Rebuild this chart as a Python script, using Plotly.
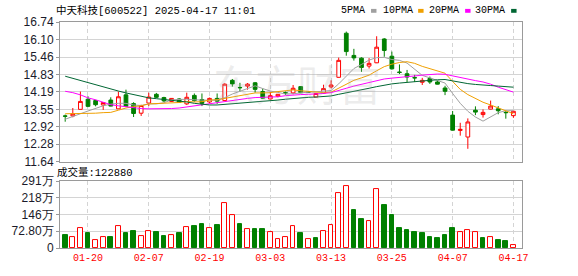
import plotly.graph_objects as go

# ---------------- data ----------------
dates = ["01-15", "01-16", "01-17", "01-20", "01-21", "01-22", "01-23", "01-24", "01-27",
         "02-05", "02-06", "02-07", "02-10", "02-11", "02-12", "02-13", "02-14", "02-17",
         "02-18", "02-19", "02-20", "02-21", "02-24", "02-25", "02-26", "02-27", "02-28",
         "03-03", "03-04", "03-05", "03-06", "03-07", "03-10", "03-11", "03-12", "03-13",
         "03-14", "03-17", "03-18", "03-19", "03-20", "03-21", "03-24", "03-25", "03-26",
         "03-27", "03-28", "03-31", "04-01", "04-02", "04-03", "04-07", "04-08", "04-09",
         "04-10", "04-11", "04-14", "04-15", "04-16", "04-17"]
tick_labels = ["01-20", "02-07", "02-19", "03-03", "03-13", "03-25", "04-07", "04-17"]

opens = [13.31, 13.31, 13.55, 13.92, 13.87, 13.71, 13.89, 13.57, 14.08, 13.76,
         13.41, 13.78, 14.10, 13.98, 13.84, 13.93, 13.75, 14.06, 13.91, 13.82,
         13.95, 13.87, 14.61, 14.35, 14.40, 14.52, 14.20, 13.93, 14.03, 14.16,
         14.15, 14.38, 14.18, 14.00, 14.14, 14.37, 14.72, 16.33, 15.52, 15.42,
         15.13, 15.25, 16.12, 15.49, 14.91, 14.85, 14.71, 14.54, 14.68, 14.55,
         14.33, 13.34, 12.78, 12.54, 13.52, 13.36, 13.56, 13.57, 13.44, 13.32]
highs = [13.36, 13.60, 14.20, 14.03, 13.90, 13.81, 13.99, 14.20, 14.27, 13.81,
         13.72, 14.16, 14.15, 14.01, 13.96, 13.96, 14.16, 14.13, 14.13, 13.98,
         14.13, 14.50, 14.66, 14.52, 14.51, 14.55, 14.31, 14.19, 14.11, 14.20,
         14.44, 14.40, 14.20, 14.13, 14.45, 14.61, 15.44, 16.39, 15.76, 15.45,
         15.42, 16.22, 16.15, 15.66, 15.19, 14.99, 14.81, 14.70, 14.75, 14.60,
         14.41, 13.49, 13.06, 13.22, 13.66, 13.55, 13.87, 13.67, 13.49, 13.50]
lows = [13.10, 13.26, 13.55, 13.63, 13.66, 13.53, 13.66, 13.57, 13.65, 13.27,
        13.31, 13.67, 13.96, 13.82, 13.82, 13.80, 13.71, 13.83, 13.67, 13.77,
        13.75, 13.86, 14.38, 14.20, 14.27, 14.16, 13.94, 13.92, 13.99, 14.08,
        14.10, 14.14, 14.15, 14.00, 14.13, 14.32, 14.71, 15.51, 15.33, 14.92,
        15.04, 15.24, 15.47, 15.00, 14.84, 14.54, 14.55, 14.44, 14.48, 14.46,
        14.07, 12.78, 12.59, 12.11, 13.34, 13.25, 13.55, 13.37, 13.21, 13.24]
closes = [13.30, 13.39, 13.84, 13.66, 13.72, 13.80, 13.67, 14.01, 13.66, 13.40,
          13.69, 14.00, 13.99, 13.86, 13.95, 13.81, 13.99, 13.87, 13.77, 13.95,
          13.85, 14.47, 14.48, 14.34, 14.47, 14.28, 13.96, 14.05, 14.10, 14.15,
          14.32, 14.16, 14.17, 14.13, 14.31, 14.44, 15.34, 15.66, 15.43, 15.08,
          15.23, 15.82, 15.70, 15.03, 14.90, 14.73, 14.70, 14.61, 14.55, 14.47,
          14.21, 12.79, 12.82, 13.09, 13.45, 13.44, 13.67, 13.50, 13.43, 13.48]
prev_close = 13.36  # close of the session before the first shown day

ma5 = [13.19, 13.30, 13.39, 13.49, 13.58, 13.68, 13.74, 13.77, 13.77, 13.71,
       13.69, 13.75, 13.75, 13.79, 13.90, 13.92, 13.92, 13.90, 13.88, 13.88,
       13.89, 13.98, 14.11, 14.22, 14.32, 14.41, 14.31, 14.22, 14.17, 14.11,
       14.12, 14.16, 14.18, 14.19, 14.22, 14.24, 14.48, 14.78, 15.04, 15.19,
       15.35, 15.44, 15.45, 15.37, 15.34, 15.24, 15.01, 14.79, 14.70, 14.61,
       14.51, 14.13, 13.77, 13.48, 13.27, 13.12, 13.29, 13.43, 13.50, 13.50]
ma10 = [13.39, 13.39, 13.40, 13.40, 13.41, 13.43, 13.44, 13.52, 13.60, 13.65,
        13.68, 13.75, 13.76, 13.78, 13.80, 13.80, 13.84, 13.82, 13.83, 13.89,
        13.90, 13.95, 14.00, 14.05, 14.10, 14.15, 14.15, 14.16, 14.20, 14.22,
        14.26, 14.23, 14.20, 14.18, 14.16, 14.18, 14.32, 14.48, 14.61, 14.70,
        14.80, 14.96, 15.11, 15.20, 15.26, 15.29, 15.23, 15.12, 15.04, 14.97,
        14.87, 14.57, 14.28, 14.09, 13.94, 13.81, 13.71, 13.60, 13.49, 13.39]
ma20 = [14.21, 14.16, 14.08, 13.97, 13.90, 13.80, 13.72, 13.68, 13.64, 13.60,
        13.58, 13.57, 13.57, 13.57, 13.58, 13.60, 13.64, 13.67, 13.71, 13.77,
        13.79, 13.85, 13.88, 13.91, 13.95, 13.98, 13.99, 13.99, 14.01, 14.05,
        14.08, 14.09, 14.10, 14.11, 14.13, 14.16, 14.23, 14.32, 14.40, 14.46,
        14.53, 14.60, 14.66, 14.69, 14.71, 14.74, 14.77, 14.80, 14.82, 14.84,
        14.83, 14.77, 14.70, 14.65, 14.60, 14.55, 14.47, 14.36, 14.26, 14.18]
ma30 = [14.76, 14.68, 14.60, 14.52, 14.45, 14.37, 14.30, 14.22, 14.15, 14.09,
        14.03, 13.97, 13.94, 13.91, 13.89, 13.87, 13.82, 13.77, 13.73, 13.71,
        13.71, 13.73, 13.75, 13.77, 13.80, 13.82, 13.84, 13.86, 13.89, 13.92,
        13.95, 13.98, 13.99, 14.00, 14.02, 14.04, 14.10, 14.15, 14.21, 14.27,
        14.32, 14.38, 14.44, 14.48, 14.51, 14.54, 14.56, 14.59, 14.61, 14.63,
        14.64, 14.59, 14.53, 14.49, 14.46, 14.43, 14.42, 14.40, 14.38, 14.36]

# volume, unit: 万
volumes = [56.2, 46.4, 88.6, 63.3, 36.6, 46.4, 46.4, 97.0, 63.3, 71.7,
           50.6, 74.5, 67.5, 50.6, 54.8, 63.3, 92.8, 94.2, 105.4, 88.6,
           101.2, 196.8, 142.0, 105.4, 84.3, 84.3, 84.3, 67.5, 40.8, 46.4,
           97.0, 63.3, 40.8, 42.2, 74.5, 99.8, 239.0, 268.5, 164.5, 126.5,
           116.7, 255.9, 185.6, 143.4, 88.6, 80.1, 67.5, 63.3, 46.4, 42.2,
           54.8, 88.6, 70.3, 78.7, 70.3, 42.2, 49.2, 33.7, 29.5, 12.288]

price_ticks = [11.64, 12.28, 12.92, 13.55, 14.19, 14.83, 15.46, 16.10, 16.74]
vol_tick_vals = [0, 72.75, 145.5, 218.25, 291]
vol_tick_text = ["0", "72.80万", "146万", "218万", "291万"]

title_text = "中天科技[600522] 2025-04-17 11:01"
vol_text = "成交量:122880"
ma_names = ["5PMA", "10PMA", "20PMA", "30PMA"]
ma_colors = ["#a0a0a0", "#f0a000", "#ff00ff", "#006633"]

# ---------------- layout geometry ----------------
W, H = 578, 276
L, R, T, B = 55, 56, 22, 21
PW, PH = W - L - R, H - T - B


def pxx(px):
    return (px - L) / PW


def pxy(py):
    return (H - B - py) / PH


RED = "#ff0000"
GREEN = "#008000"
xs = list(range(len(dates)))

fig = go.Figure()

fig.add_trace(go.Candlestick(
    x=xs, open=opens, high=highs, low=lows, close=closes,
    xaxis="x2", yaxis="y2", whiskerwidth=0, hoverinfo="skip",
    increasing=dict(line=dict(color=RED, width=1), fillcolor="#ffffff"),
    decreasing=dict(line=dict(color=GREEN, width=1), fillcolor=GREEN),
))

for name, vals, col in zip(ma_names, [ma5, ma10, ma20, ma30], ma_colors):
    fig.add_trace(go.Scatter(x=xs, y=vals, mode="lines", name=name,
                             line=dict(color=col, width=1), xaxis="x2", yaxis="y2",
                             hoverinfo="skip"))

prev = [prev_close] + closes[:-1]
up = [c >= p for c, p in zip(closes, prev)]
fig.add_trace(go.Bar(
    x=xs, y=volumes, width=0.62, xaxis="x", yaxis="y", hoverinfo="skip",
    marker=dict(color=["#ffffff" if u else GREEN for u in up],
                line=dict(color=[RED if u else GREEN for u in up], width=1)),
))

xr = [-0.685, 60.13]
grid_c = "#d4d4d4"
border_c = "#9a9a9a"
tick_font = dict(family="Liberation Sans, Arial", size=12, color="#1a1a2a")

fig.update_layout(
    width=W, height=H, margin=dict(l=L, r=R, t=T, b=B),
    paper_bgcolor="white", plot_bgcolor="white", showlegend=False,
    bargap=0,
    xaxis=dict(domain=[0, 1], anchor="y", range=xr, tickmode="array",
               tickvals=[dates.index(t) for t in tick_labels], ticktext=tick_labels,
               tickfont=dict(family="Liberation Mono, monospace", size=10, color=RED),
               showgrid=True, gridcolor=grid_c, griddash="4px,3px", gridwidth=1,
               showline=True, linecolor=border_c, linewidth=1, mirror=True,
               ticks="", zeroline=False, rangeslider=dict(visible=False)),
    xaxis2=dict(domain=[0, 1], anchor="y2", range=xr, matches="x", tickmode="array",
                tickvals=[dates.index(t) for t in tick_labels], showticklabels=False,
                showgrid=True, gridcolor=grid_c, griddash="4px,3px", gridwidth=1,
                showline=True, linecolor=border_c, linewidth=1, mirror=True,
                ticks="", zeroline=False, rangeslider=dict(visible=False)),
    yaxis=dict(domain=[0, pxy(186)], range=[0, 291], tickmode="array",
               tickvals=vol_tick_vals, ticktext=vol_tick_text, tickfont=tick_font,
               showgrid=True, gridcolor=grid_c, gridwidth=1,
               showline=True, linecolor=border_c, linewidth=1, mirror=True,
               ticks="outside", ticklen=3, tickcolor=border_c, zeroline=False),
    yaxis2=dict(domain=[pxy(166), 1], range=[11.64, 16.74], tickmode="array",
                tickvals=price_ticks, ticktext=[f"{v:.2f}" for v in price_ticks],
                tickfont=tick_font,
                showgrid=True, gridcolor=grid_c, gridwidth=1,
                showline=True, linecolor=border_c, linewidth=1, mirror=True,
                ticks="outside", ticklen=3, tickcolor=border_c, zeroline=False),
)

annotations = [
    dict(text="东方财富", x=pxx(295), y=pxy(84), xref="paper", yref="paper",
         showarrow=False, font=dict(family="Noto Sans CJK SC", size=42,
                                     color="rgba(170,170,170,0.22)"),
         xanchor="center", yanchor="middle"),
    dict(text=title_text, x=pxx(50), y=pxy(10), xref="paper", yref="paper",
         showarrow=False, xanchor="left", yanchor="middle", align="left", borderpad=0,
         font=dict(family="Liberation Mono, Noto Sans CJK SC", size=10.5, color="#000")),
    dict(text=vol_text, x=pxx(51), y=pxy(177), xref="paper", yref="paper",
         showarrow=False, xanchor="left", yanchor="middle", align="left", borderpad=0,
         font=dict(family="Liberation Mono, Noto Sans CJK SC", size=10.5, color="#000")),
]
legend_x = [338.5, 380, 427, 473.6]
square_x = [369.4, 417, 464.5, 511]
shapes = []
for name, col, lx, sx in zip(ma_names, ma_colors, legend_x, square_x):
    annotations.append(dict(text=name, x=pxx(lx), y=pxy(10), xref="paper", yref="paper",
                            showarrow=False, xanchor="left", yanchor="middle",
                            align="left", borderpad=0,
                            font=dict(family="Liberation Mono, monospace", size=10,
                                      color="#000")))
    shapes.append(dict(type="rect", xref="paper", yref="paper",
                       x0=pxx(sx), x1=pxx(sx + 5.5), y0=pxy(12.5), y1=pxy(8.5),
                       fillcolor=col, line=dict(width=0)))
fig.update_layout(annotations=annotations, shapes=shapes)

fig.write_html("out.html")
